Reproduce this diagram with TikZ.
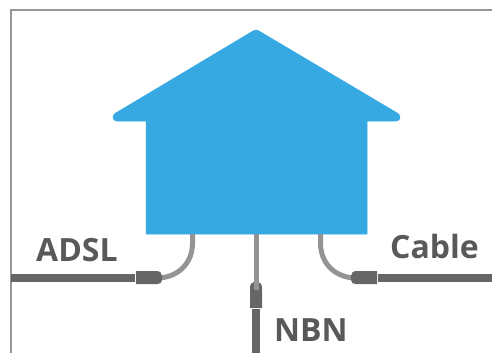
\documentclass[tikz,border=0pt]{standalone}
\usepackage{fontspec}
\setmainfont{Open Sans}
\definecolor{houseblue}{HTML}{36A9E3}
\definecolor{framegray}{HTML}{969696}
\definecolor{wiregray}{HTML}{949494}
\definecolor{cabledark}{HTML}{666666}
\definecolor{labelgray}{HTML}{595959}
\tikzset{
  framestyle/.style={draw=framegray,line width=2pt},
  housestyle/.style={fill=houseblue,draw=houseblue,line width=0.5pt,line join=round},
  wirestyle/.style={draw=wiregray,line width=5pt},
  cablestyle/.style={draw=cabledark,line width=8pt},
  plugstyle/.style={fill=cabledark},
  labelstyle/.style={font=\fontsize{32pt}{32pt}\selectfont\bfseries,text=labelgray,inner sep=0pt,anchor=base west}
}
\begin{document}
\begin{tikzpicture}[x=1pt,y=-1pt]
\useasboundingbox (0,0) rectangle (492,353);
\draw[framestyle] (492,10.5) -- (10.5,10.5) -- (10.5,353);
% house
\fill[housestyle] (256,30) .. controls (257,30) and (258,30.5) .. (259,31)
  -- (398,113.5) .. controls (401,115.5) and (401,121) .. (396,121)
  -- (367,121) -- (367,234) -- (146,234) -- (146,121) -- (117,121)
  .. controls (112,121) and (112,115.5) .. (115,113.5)
  -- (253,31) .. controls (254,30.5) and (255,30) .. (256,30) -- cycle;
\coordinate (adslA) at (192.5,234);
\coordinate (adslB) at (160,278);
\coordinate (adslC) at (135,278);
\coordinate (adslD) at (11,278);
\coordinate (cabA) at (320.5,234);
\coordinate (cabB) at (353,278);
\coordinate (cabC) at (378,278);
\coordinate (cabD) at (492,278);
\coordinate (nbnA) at (256,234);
\coordinate (nbnB) at (256,290);
\coordinate (nbnC) at (256,309);
\coordinate (nbnD) at (256,353);
% ADSL
\draw[wirestyle] (adslA) -- (192.5,243) .. controls (192.5,262) and (180,276) .. (adslB);
\fill[plugstyle] (136,271) -- (156,271) .. controls (160,271) and (162,273) .. (162,276)
  -- (162,280) .. controls (162,283) and (160,284) .. (157,284) -- (136,284) -- cycle;
\draw[cablestyle] (adslD) -- (adslC);
% Cable
\draw[wirestyle] (cabA) -- (320.5,243) .. controls (320.5,262) and (333,276) .. (cabB);
\fill[plugstyle] (377,271) -- (357,271) .. controls (353,271) and (351,273) .. (351,276)
  -- (351,280) .. controls (351,283) and (353,284) .. (356,284) -- (377,284) -- cycle;
\draw[cablestyle] (cabC) -- (cabD);
% NBN
\fill[plugstyle] (250,308) -- (250,288) .. controls (250,284) and (252,282) .. (254,282)
  -- (258,282) .. controls (260,282) and (262,284) .. (262,288) -- (262,308) -- cycle;
\draw[wirestyle] (nbnA) -- (nbnB);
\draw[cablestyle] (nbnC) -- (nbnD);
% labels
\node[labelstyle] (adsl) at (36,261) {ADSL};
\node[labelstyle] (cable) at (390,258) {Cable};
\node[labelstyle] (nbn) at (274,341) {NBN};
\end{tikzpicture}
\end{document}
